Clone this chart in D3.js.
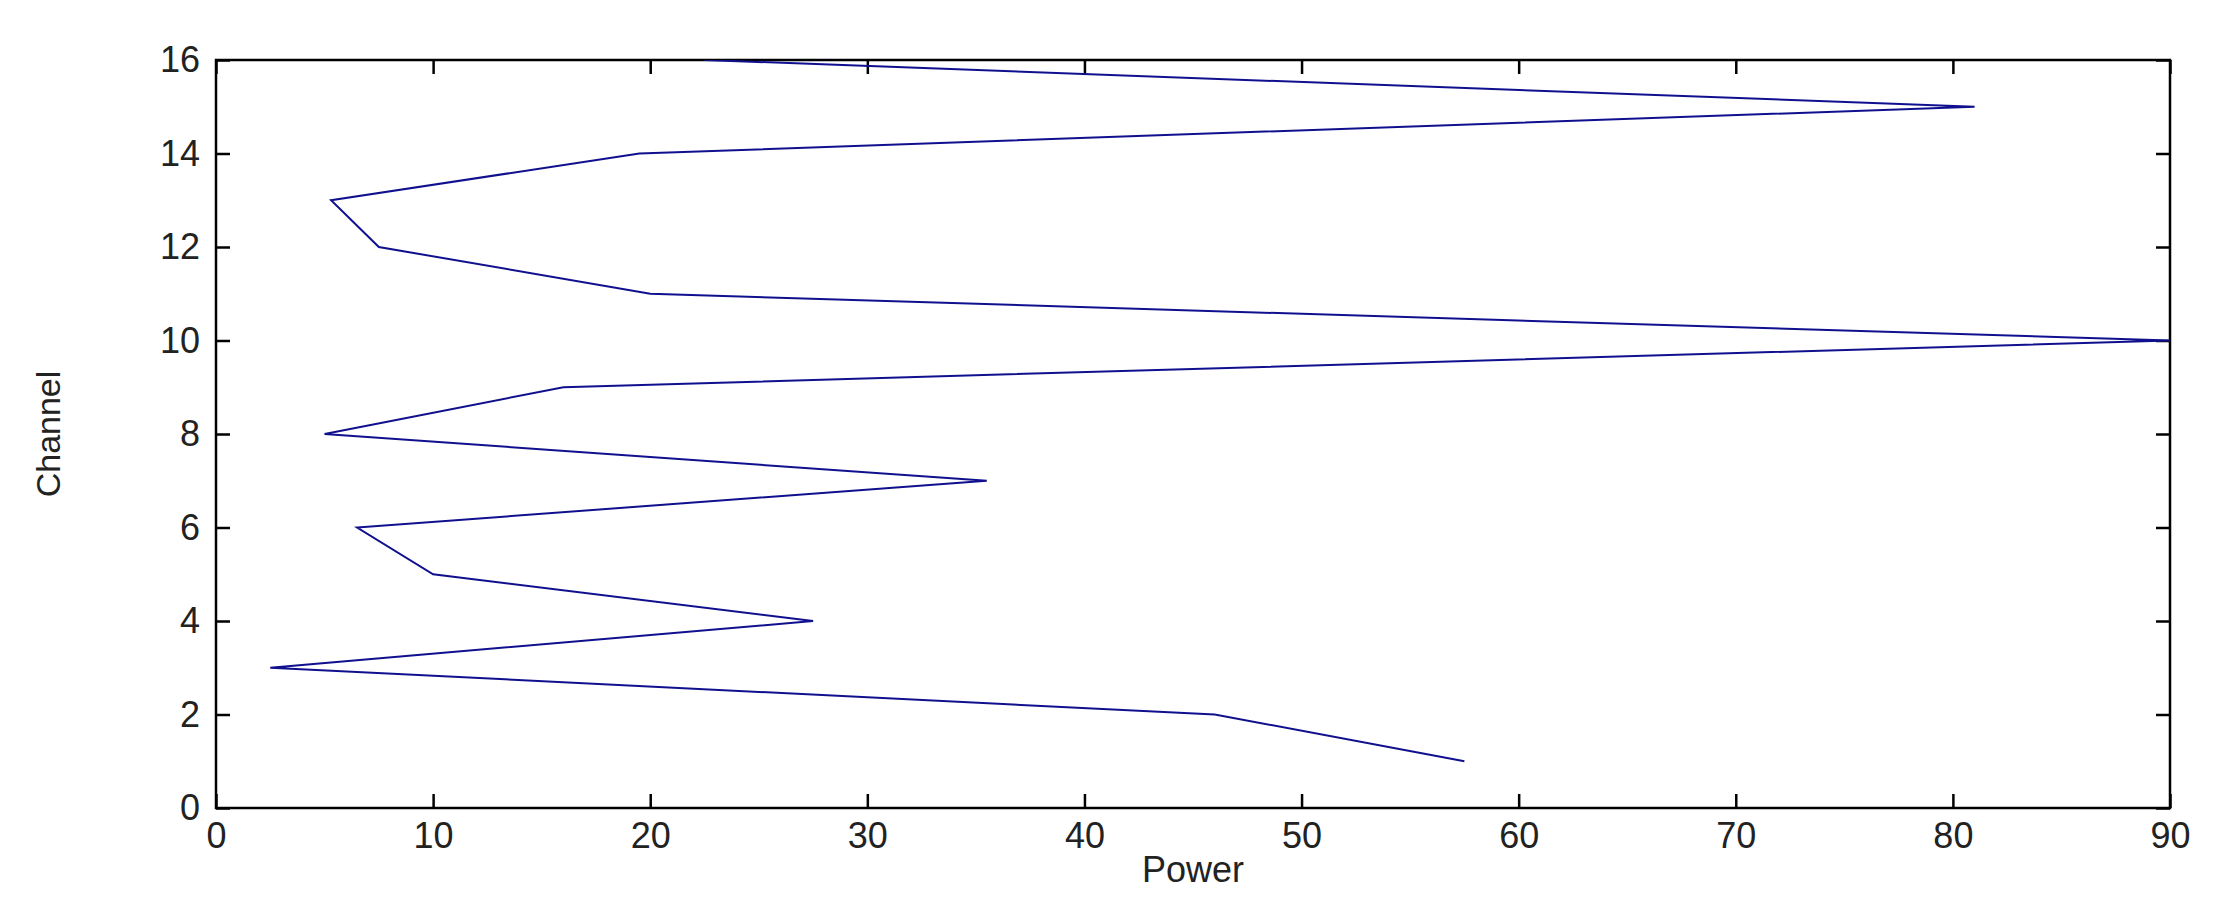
<!DOCTYPE html>
<html><head><meta charset="utf-8">
<script src="https://cdn.jsdelivr.net/npm/d3@7"></script>
<style>body{margin:0;background:#fff}text{font-family:"Liberation Sans",Arial,sans-serif;fill:#222}</style>
</head><body><svg id="c" width="2228" height="916"></svg>
<script>
const channels = [1,2,3,4,5,6,7,8,9,10,11,12,13,14,15,16];
const power = [57.5,46,2.5,27.5,10,6.5,35.5,5,16,90,20,7.5,5.3,19.5,81,22.5];
const xTicks = [0,10,20,30,40,50,60,70,80,90];
const yTicks = [0,2,4,6,8,10,12,14,16];

const svg = d3.select("#c");
const L=216,R=2170,T=60,B=808;
const x = d3.scaleLinear().domain([0,90]).range([L,R]);
const y = d3.scaleLinear().domain([0,16]).range([B,T]);
svg.append("rect").attr("x",L).attr("y",T).attr("width",R-L).attr("height",B-T).attr("fill","none").attr("stroke","#000").attr("stroke-width",2.5);
const tk=14;
function style(g){g.select(".domain").remove();g.selectAll("line").attr("stroke","#000").attr("stroke-width",2.5);g.selectAll("text").style("font-size","36px").attr("fill","#1a1a1a");}
svg.append("g").attr("transform",`translate(0,${B})`).call(d3.axisBottom(x).tickValues(xTicks).tickSize(-tk).tickPadding(14)).call(style);
svg.append("g").attr("transform",`translate(0,${T})`).call(d3.axisTop(x).tickValues(xTicks).tickSize(-tk).tickFormat("")).call(style);
svg.append("g").attr("transform",`translate(${L},0)`).call(d3.axisLeft(y).tickValues(yTicks).tickSize(-tk).tickPadding(16)).call(style);
svg.append("g").attr("transform",`translate(${R},0)`).call(d3.axisRight(y).tickValues(yTicks).tickSize(-tk).tickFormat("")).call(style);
svg.append("defs").append("clipPath").attr("id","cp").append("rect").attr("x",L).attr("y",T).attr("width",R-L).attr("height",B-T);
svg.append("path").datum(channels.map((c,i)=>[power[i],c]))
 .attr("clip-path","url(#cp)")
 .attr("d",d3.line().x(d=>x(d[0])).y(d=>y(d[1])))
 .attr("fill","none").attr("stroke","#10108f").attr("stroke-width",2);
svg.append("text").attr("x",(L+R)/2).attr("y",882).attr("text-anchor","middle").style("font-size","36px").text("Power");
svg.append("text").attr("transform",`translate(60,${(T+B)/2}) rotate(-90)`).attr("text-anchor","middle").style("font-size","34px").text("Channel");
</script></body></html>
